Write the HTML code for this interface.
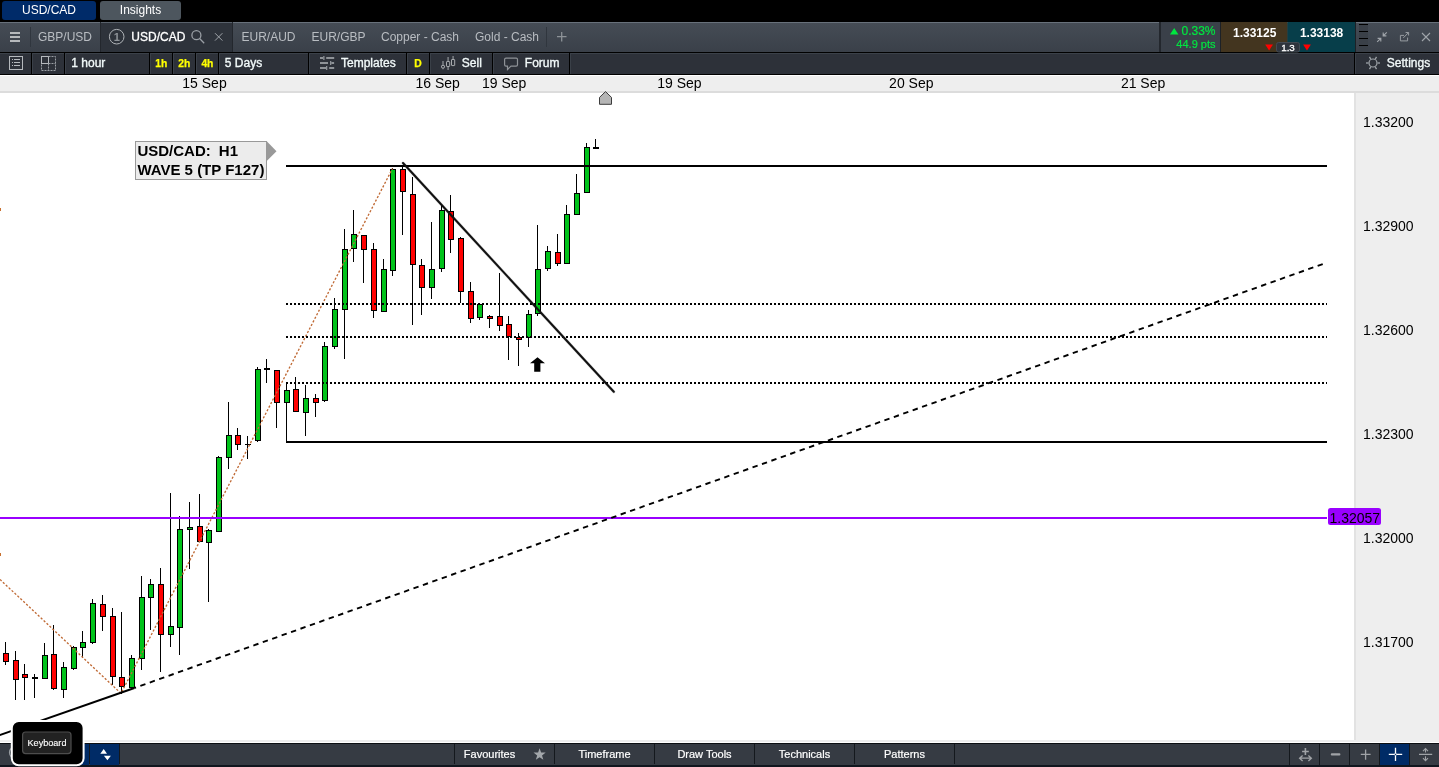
<!DOCTYPE html>
<html lang="en"><head><meta charset="utf-8"><title>USD/CAD chart</title>
<style>
html,body{margin:0;padding:0;background:#fff;}
body{width:1439px;height:767px;overflow:hidden;position:relative;font-family:"Liberation Sans",sans-serif;}
svg{position:absolute;left:0;top:0;display:block;}
svg text{font-family:"Liberation Sans",sans-serif;}
#topbar{position:absolute;left:0;top:0;width:1439px;height:22px;background:#000;}
#tabrow{position:absolute;left:0;top:22px;width:1439px;height:30px;background:linear-gradient(#454c55,#3a4049);border-top:1px solid #68717b;box-sizing:border-box;}
#toolbar{position:absolute;left:0;top:52px;width:1439px;height:23px;background:linear-gradient(#3b4149 0,#3b4149 1px,#2d3139 1px);border-top:1px solid #000;border-bottom:1px solid #000;box-sizing:border-box;}
#datestrip{position:absolute;left:0;top:75px;width:1439px;height:18px;background:#eee;border-top:1px solid #fff;border-bottom:2px solid #dcdcdc;box-sizing:border-box;}
#axis{position:absolute;left:1354px;top:93px;width:85px;height:648px;background:#eee;border-left:2px solid #e2e2e2;box-sizing:border-box;}
#chartbottom{position:absolute;left:0;top:740px;width:1439px;height:2px;background:#eee;}
#botbar{position:absolute;left:0;top:743px;width:1439px;height:24px;background:#363b43;border-top:1px solid #0c0f13;border-bottom:2px solid #10161e;box-sizing:border-box;}
</style></head><body>
<div id="topbar"></div><div id="tabrow"></div><div id="toolbar"></div><div id="datestrip"></div>
<div id="axis"></div><div id="chartbottom"></div><div id="botbar"></div>

<svg id="chart" width="1439" height="767" viewBox="0 0 1439 767">
<text x="204.5" y="87.5" font-size="14" fill="#000" font-weight="normal" text-anchor="middle" >15 Sep</text>
<text x="437.7" y="87.5" font-size="14" fill="#000" font-weight="normal" text-anchor="middle" >16 Sep</text>
<text x="504.2" y="87.5" font-size="14" fill="#000" font-weight="normal" text-anchor="middle" >19 Sep</text>
<text x="679.4" y="87.5" font-size="14" fill="#000" font-weight="normal" text-anchor="middle" >19 Sep</text>
<text x="911.3" y="87.5" font-size="14" fill="#000" font-weight="normal" text-anchor="middle" >20 Sep</text>
<text x="1143.1" y="87.5" font-size="14" fill="#000" font-weight="normal" text-anchor="middle" >21 Sep</text>
<text x="1363" y="127" font-size="14" fill="#000" font-weight="normal" text-anchor="start" >1.33200</text>
<text x="1363" y="231" font-size="14" fill="#000" font-weight="normal" text-anchor="start" >1.32900</text>
<text x="1363" y="335" font-size="14" fill="#000" font-weight="normal" text-anchor="start" >1.32600</text>
<text x="1363" y="439" font-size="14" fill="#000" font-weight="normal" text-anchor="start" >1.32300</text>
<text x="1363" y="543" font-size="14" fill="#000" font-weight="normal" text-anchor="start" >1.32000</text>
<text x="1363" y="647" font-size="14" fill="#000" font-weight="normal" text-anchor="start" >1.31700</text>
<path d="M599.5 104.3 V97.4 L605.5 91.6 L611.5 97.4 V104.3 Z" fill="#b5b5b5" stroke="#3c3c3c" stroke-width="1"/>
<line x1="5.5" y1="642" x2="5.5" y2="665" stroke="#000" stroke-width="1"/>
<rect x="3.5" y="653.5" width="5" height="8" fill="#ff0000" stroke="#000" stroke-width="1"/>
<line x1="15.5" y1="651" x2="15.5" y2="700" stroke="#000" stroke-width="1"/>
<rect x="13.5" y="660.5" width="5" height="19" fill="#ff0000" stroke="#000" stroke-width="1"/>
<line x1="24.5" y1="664" x2="24.5" y2="700" stroke="#000" stroke-width="1"/>
<rect x="22.5" y="674.5" width="5" height="3" fill="#ff0000" stroke="#000" stroke-width="1"/>
<line x1="34.5" y1="674" x2="34.5" y2="698" stroke="#000" stroke-width="1"/>
<rect x="32" y="677" width="6" height="2" fill="#000"/>
<line x1="44.5" y1="643" x2="44.5" y2="679" stroke="#000" stroke-width="1"/>
<rect x="42.5" y="655.5" width="5" height="23" fill="#00c31a" stroke="#000" stroke-width="1"/>
<line x1="53.5" y1="625" x2="53.5" y2="690" stroke="#000" stroke-width="1"/>
<rect x="51.5" y="654.5" width="5" height="34" fill="#ff0000" stroke="#000" stroke-width="1"/>
<line x1="63.5" y1="662" x2="63.5" y2="698" stroke="#000" stroke-width="1"/>
<rect x="61.5" y="667.5" width="5" height="22" fill="#00c31a" stroke="#000" stroke-width="1"/>
<line x1="73.5" y1="646" x2="73.5" y2="670" stroke="#000" stroke-width="1"/>
<rect x="71.5" y="647.5" width="5" height="21" fill="#00c31a" stroke="#000" stroke-width="1"/>
<line x1="82.5" y1="631" x2="82.5" y2="658" stroke="#000" stroke-width="1"/>
<rect x="80.5" y="642.5" width="5" height="5" fill="#00c31a" stroke="#000" stroke-width="1"/>
<line x1="92.5" y1="599" x2="92.5" y2="644" stroke="#000" stroke-width="1"/>
<rect x="90.5" y="603.5" width="5" height="39" fill="#00c31a" stroke="#000" stroke-width="1"/>
<line x1="102.5" y1="595" x2="102.5" y2="631" stroke="#000" stroke-width="1"/>
<rect x="100.5" y="604.5" width="5" height="12" fill="#ff0000" stroke="#000" stroke-width="1"/>
<line x1="112.5" y1="608" x2="112.5" y2="685" stroke="#000" stroke-width="1"/>
<rect x="110.5" y="616.5" width="5" height="60" fill="#ff0000" stroke="#000" stroke-width="1"/>
<line x1="121.5" y1="612" x2="121.5" y2="694" stroke="#000" stroke-width="1"/>
<rect x="119.5" y="677.5" width="5" height="9" fill="#ff0000" stroke="#000" stroke-width="1"/>
<line x1="131.5" y1="655" x2="131.5" y2="688" stroke="#000" stroke-width="1"/>
<rect x="129.5" y="658.5" width="5" height="29" fill="#00c31a" stroke="#000" stroke-width="1"/>
<line x1="141.5" y1="576" x2="141.5" y2="670" stroke="#000" stroke-width="1"/>
<rect x="139.5" y="597.5" width="5" height="61" fill="#00c31a" stroke="#000" stroke-width="1"/>
<line x1="150.5" y1="579" x2="150.5" y2="630" stroke="#000" stroke-width="1"/>
<rect x="148.5" y="584.5" width="5" height="13" fill="#00c31a" stroke="#000" stroke-width="1"/>
<line x1="160.5" y1="568" x2="160.5" y2="672" stroke="#000" stroke-width="1"/>
<rect x="158.5" y="584.5" width="5" height="50" fill="#ff0000" stroke="#000" stroke-width="1"/>
<line x1="170.5" y1="493" x2="170.5" y2="647" stroke="#000" stroke-width="1"/>
<rect x="168.5" y="626.5" width="5" height="8" fill="#00c31a" stroke="#000" stroke-width="1"/>
<line x1="179.5" y1="516" x2="179.5" y2="655" stroke="#000" stroke-width="1"/>
<rect x="177.5" y="529.5" width="5" height="98" fill="#00c31a" stroke="#000" stroke-width="1"/>
<line x1="189.5" y1="502" x2="189.5" y2="569" stroke="#000" stroke-width="1"/>
<rect x="187.5" y="527.5" width="5" height="2" fill="#00c31a" stroke="#000" stroke-width="1"/>
<line x1="199.5" y1="494" x2="199.5" y2="542" stroke="#000" stroke-width="1"/>
<rect x="197.5" y="526.5" width="5" height="15" fill="#ff0000" stroke="#000" stroke-width="1"/>
<line x1="208.5" y1="529" x2="208.5" y2="602" stroke="#000" stroke-width="1"/>
<rect x="206.5" y="530.5" width="5" height="12" fill="#00c31a" stroke="#000" stroke-width="1"/>
<line x1="218.5" y1="456" x2="218.5" y2="532" stroke="#000" stroke-width="1"/>
<rect x="216.5" y="457.5" width="5" height="74" fill="#00c31a" stroke="#000" stroke-width="1"/>
<line x1="228.5" y1="402" x2="228.5" y2="469" stroke="#000" stroke-width="1"/>
<rect x="226.5" y="435.5" width="5" height="22" fill="#00c31a" stroke="#000" stroke-width="1"/>
<line x1="237.5" y1="428" x2="237.5" y2="450" stroke="#000" stroke-width="1"/>
<rect x="235.5" y="435.5" width="5" height="9" fill="#ff0000" stroke="#000" stroke-width="1"/>
<line x1="247.5" y1="436" x2="247.5" y2="459" stroke="#000" stroke-width="1"/>
<rect x="245" y="444" width="6" height="1" fill="#000"/>
<line x1="257.5" y1="367" x2="257.5" y2="442" stroke="#000" stroke-width="1"/>
<rect x="255.5" y="369.5" width="5" height="71" fill="#00c31a" stroke="#000" stroke-width="1"/>
<line x1="266.5" y1="359" x2="266.5" y2="383" stroke="#000" stroke-width="1"/>
<rect x="264" y="368" width="6" height="2" fill="#000"/>
<line x1="276.5" y1="370" x2="276.5" y2="428" stroke="#000" stroke-width="1"/>
<rect x="274.5" y="370.5" width="5" height="32" fill="#ff0000" stroke="#000" stroke-width="1"/>
<line x1="286.5" y1="382" x2="286.5" y2="442" stroke="#000" stroke-width="1"/>
<rect x="284.5" y="390.5" width="5" height="12" fill="#00c31a" stroke="#000" stroke-width="1"/>
<line x1="295.5" y1="377" x2="295.5" y2="412" stroke="#000" stroke-width="1"/>
<rect x="293.5" y="389.5" width="5" height="22" fill="#ff0000" stroke="#000" stroke-width="1"/>
<line x1="305.5" y1="385" x2="305.5" y2="436" stroke="#000" stroke-width="1"/>
<rect x="303.5" y="398.5" width="5" height="14" fill="#00c31a" stroke="#000" stroke-width="1"/>
<line x1="315.5" y1="394" x2="315.5" y2="417" stroke="#000" stroke-width="1"/>
<rect x="313.5" y="398.5" width="5" height="4" fill="#ff0000" stroke="#000" stroke-width="1"/>
<line x1="324.5" y1="342" x2="324.5" y2="402" stroke="#000" stroke-width="1"/>
<rect x="322.5" y="346.5" width="5" height="54" fill="#00c31a" stroke="#000" stroke-width="1"/>
<line x1="334.5" y1="298" x2="334.5" y2="349" stroke="#000" stroke-width="1"/>
<rect x="332.5" y="309.5" width="5" height="37" fill="#00c31a" stroke="#000" stroke-width="1"/>
<line x1="344.5" y1="229" x2="344.5" y2="359" stroke="#000" stroke-width="1"/>
<rect x="342.5" y="249.5" width="5" height="60" fill="#00c31a" stroke="#000" stroke-width="1"/>
<line x1="353.5" y1="210" x2="353.5" y2="262" stroke="#000" stroke-width="1"/>
<rect x="351.5" y="234.5" width="5" height="14" fill="#00c31a" stroke="#000" stroke-width="1"/>
<line x1="363.5" y1="235" x2="363.5" y2="283" stroke="#000" stroke-width="1"/>
<rect x="361.5" y="235.5" width="5" height="14" fill="#ff0000" stroke="#000" stroke-width="1"/>
<line x1="373.5" y1="243" x2="373.5" y2="318" stroke="#000" stroke-width="1"/>
<rect x="371.5" y="249.5" width="5" height="61" fill="#ff0000" stroke="#000" stroke-width="1"/>
<line x1="383.5" y1="259" x2="383.5" y2="312" stroke="#000" stroke-width="1"/>
<rect x="381.5" y="269.5" width="5" height="42" fill="#00c31a" stroke="#000" stroke-width="1"/>
<line x1="392.5" y1="168" x2="392.5" y2="276" stroke="#000" stroke-width="1"/>
<rect x="390.5" y="169.5" width="5" height="101" fill="#00c31a" stroke="#000" stroke-width="1"/>
<line x1="402.5" y1="166" x2="402.5" y2="235" stroke="#000" stroke-width="1"/>
<rect x="400.5" y="169.5" width="5" height="22" fill="#ff0000" stroke="#000" stroke-width="1"/>
<line x1="412.5" y1="177" x2="412.5" y2="325" stroke="#000" stroke-width="1"/>
<rect x="410.5" y="194.5" width="5" height="70" fill="#ff0000" stroke="#000" stroke-width="1"/>
<line x1="421.5" y1="259" x2="421.5" y2="315" stroke="#000" stroke-width="1"/>
<rect x="419.5" y="265.5" width="5" height="22" fill="#ff0000" stroke="#000" stroke-width="1"/>
<line x1="431.5" y1="222" x2="431.5" y2="299" stroke="#000" stroke-width="1"/>
<rect x="429.5" y="269.5" width="5" height="18" fill="#00c31a" stroke="#000" stroke-width="1"/>
<line x1="441.5" y1="205" x2="441.5" y2="272" stroke="#000" stroke-width="1"/>
<rect x="439.5" y="210.5" width="5" height="58" fill="#00c31a" stroke="#000" stroke-width="1"/>
<line x1="450.5" y1="195" x2="450.5" y2="253" stroke="#000" stroke-width="1"/>
<rect x="448.5" y="211.5" width="5" height="28" fill="#ff0000" stroke="#000" stroke-width="1"/>
<line x1="460.5" y1="237" x2="460.5" y2="303" stroke="#000" stroke-width="1"/>
<rect x="458.5" y="238.5" width="5" height="53" fill="#ff0000" stroke="#000" stroke-width="1"/>
<line x1="470.5" y1="282" x2="470.5" y2="323" stroke="#000" stroke-width="1"/>
<rect x="468.5" y="291.5" width="5" height="27" fill="#ff0000" stroke="#000" stroke-width="1"/>
<line x1="479.5" y1="303" x2="479.5" y2="320" stroke="#000" stroke-width="1"/>
<rect x="477.5" y="304.5" width="5" height="13" fill="#00c31a" stroke="#000" stroke-width="1"/>
<line x1="489.5" y1="315" x2="489.5" y2="328" stroke="#000" stroke-width="1"/>
<rect x="487.5" y="316.5" width="5" height="2" fill="#ff0000" stroke="#000" stroke-width="1"/>
<line x1="499.5" y1="273" x2="499.5" y2="331" stroke="#000" stroke-width="1"/>
<rect x="497.5" y="316.5" width="5" height="9" fill="#ff0000" stroke="#000" stroke-width="1"/>
<line x1="508.5" y1="316" x2="508.5" y2="360" stroke="#000" stroke-width="1"/>
<rect x="506.5" y="324.5" width="5" height="12" fill="#ff0000" stroke="#000" stroke-width="1"/>
<line x1="518.5" y1="333" x2="518.5" y2="366" stroke="#000" stroke-width="1"/>
<rect x="516.5" y="337.5" width="5" height="2" fill="#ff0000" stroke="#000" stroke-width="1"/>
<line x1="528.5" y1="310" x2="528.5" y2="347" stroke="#000" stroke-width="1"/>
<rect x="526.5" y="314.5" width="5" height="23" fill="#00c31a" stroke="#000" stroke-width="1"/>
<line x1="537.5" y1="225" x2="537.5" y2="316" stroke="#000" stroke-width="1"/>
<rect x="535.5" y="269.5" width="5" height="44" fill="#00c31a" stroke="#000" stroke-width="1"/>
<line x1="547.5" y1="246" x2="547.5" y2="271" stroke="#000" stroke-width="1"/>
<rect x="545.5" y="251.5" width="5" height="17" fill="#00c31a" stroke="#000" stroke-width="1"/>
<line x1="557.5" y1="234" x2="557.5" y2="266" stroke="#000" stroke-width="1"/>
<rect x="555.5" y="252.5" width="5" height="11" fill="#ff0000" stroke="#000" stroke-width="1"/>
<line x1="566.5" y1="205" x2="566.5" y2="263" stroke="#000" stroke-width="1"/>
<rect x="564.5" y="214.5" width="5" height="49" fill="#00c31a" stroke="#000" stroke-width="1"/>
<line x1="576.5" y1="174" x2="576.5" y2="215" stroke="#000" stroke-width="1"/>
<rect x="574.5" y="193.5" width="5" height="21" fill="#00c31a" stroke="#000" stroke-width="1"/>
<line x1="586.5" y1="143" x2="586.5" y2="193" stroke="#000" stroke-width="1"/>
<rect x="584.5" y="147.5" width="5" height="45" fill="#00c31a" stroke="#000" stroke-width="1"/>
<line x1="595.5" y1="139" x2="595.5" y2="148" stroke="#000" stroke-width="1"/>
<rect x="593" y="147" width="6" height="2" fill="#000"/>
<path d="M0 579.4 L121 693.4 L392.5 168.5" fill="none" stroke="#c06a35" stroke-width="1.35" stroke-dasharray="2.2 1.8"/>
<rect x="0" y="208" width="1" height="3" fill="#c87030"/><rect x="0" y="553" width="1" height="3" fill="#c87030"/>
<rect x="286" y="165" width="1041" height="2" fill="#000"/>
<rect x="286" y="441" width="1041" height="2" fill="#000"/>
<line x1="286" y1="304" x2="1327" y2="304" stroke="#000" stroke-width="2" stroke-dasharray="2 2"/>
<line x1="286" y1="337" x2="1327" y2="337" stroke="#000" stroke-width="2" stroke-dasharray="2 2"/>
<line x1="286" y1="383" x2="1327" y2="383" stroke="#000" stroke-width="2" stroke-dasharray="2 2"/>
<rect x="0" y="517" width="1327" height="2" fill="#9900ff"/>
<line x1="-2" y1="735.7" x2="134.4" y2="688" stroke="#000" stroke-width="2"/>
<line x1="134.4" y1="688" x2="1322.8" y2="264" stroke="#000" stroke-width="1.9" stroke-dasharray="5.4 4.6" stroke-dashoffset="3.7"/>
<line x1="403" y1="163" x2="613.8" y2="391.8" stroke="#000" stroke-opacity="0.2" stroke-width="3" stroke-linecap="round"/>
<line x1="403" y1="163" x2="613.8" y2="391.8" stroke="#111" stroke-width="2" stroke-linecap="round"/>
<path d="M537.5 357.2 L545 363.3 H540.4 V371.7 H534.2 V363.3 H530 Z" fill="#000"/>
<path d="M267 141.5 L276.5 151.2 L267 160.8 Z" fill="#999"/>
<rect x="135.5" y="141.5" width="131" height="38" fill="#ececec" stroke="#999" stroke-width="1"/>
<text y="155.6" font-size="15" fill="#000" font-weight="bold"><tspan x="137.4">USD/CAD:</tspan><tspan x="218.8">H1</tspan></text>
<text x="137.4" y="174.8" font-size="15" fill="#000" font-weight="bold" text-anchor="start" >WAVE 5 (TP F127)</text>
<rect x="1328" y="508" width="53" height="17" rx="2.5" fill="#9900ff"/>
<text x="1329.5" y="523" font-size="14" fill="#000" font-weight="normal" text-anchor="start" >1.32057</text>
</svg>
<svg id="hdr" width="1439" height="76" viewBox="0 0 1439 76">
<rect x="2" y="1" width="94" height="19" rx="3" fill="#002b69"/>
<rect x="100" y="1" width="81" height="19" rx="3" fill="#4d565e"/>
<text x="49" y="13.6" font-size="12" fill="#fff" font-weight="normal" text-anchor="middle" >USD/CAD</text>
<text x="140.5" y="13.6" font-size="12" fill="#fff" font-weight="normal" text-anchor="middle" >Insights</text>
<rect x="10" y="32" width="10" height="2" fill="#b6b9bc"/>
<rect x="10" y="36" width="10" height="2" fill="#b6b9bc"/>
<rect x="10" y="40" width="10" height="2" fill="#b6b9bc"/>
<rect x="30" y="27" width="1" height="20" fill="#30363e"/>
<text x="38" y="40.8" font-size="12" fill="#b9bdc2" font-weight="normal" text-anchor="start" >GBP/USD</text>
<rect x="100" y="22" width="133" height="30" fill="#2e333b"/><rect x="100" y="22" width="133" height="1" fill="#59616b"/>
<rect x="100" y="22" width="1" height="30" fill="#23272d"/><rect x="232" y="22" width="1" height="30" fill="#23272d"/>
<circle cx="116.7" cy="36.7" r="7.3" fill="none" stroke="#b0b4b8" stroke-width="1"/>
<text x="116.8" y="40.7" font-size="11" fill="#8f9499" font-weight="bold" text-anchor="middle" >1</text>
<text x="131.3" y="40.8" font-size="12" fill="#fff" font-weight="normal" text-anchor="start" stroke="#fff" stroke-width="0.3">USD/CAD</text>
<circle cx="196.4" cy="35.2" r="4.5" fill="none" stroke="#9a9fa5" stroke-width="1.3"/><line x1="199.6" y1="38.5" x2="204.2" y2="43.2" stroke="#9a9fa5" stroke-width="1.3"/>
<path d="M215 33.2 L222.4 40.6 M222.4 33.2 L215 40.6" stroke="#a0a5aa" stroke-width="1" fill="none"/>
<text x="241.5" y="40.8" font-size="12" fill="#b9bdc2" font-weight="normal" text-anchor="start" >EUR/AUD</text>
<text x="311.5" y="40.8" font-size="12" fill="#b9bdc2" font-weight="normal" text-anchor="start" >EUR/GBP</text>
<text x="381" y="40.8" font-size="12" fill="#b9bdc2" font-weight="normal" text-anchor="start" >Copper - Cash</text>
<text x="475" y="40.8" font-size="12" fill="#b9bdc2" font-weight="normal" text-anchor="start" >Gold - Cash</text>
<rect x="546" y="27" width="1" height="20" fill="#30363e"/>
<path d="M557 36.7 H566.5 M561.7 32 V41.5" stroke="#8d9297" stroke-width="1.3" fill="none"/>
<rect x="1159" y="22" width="2" height="30" fill="#23272d"/>
<rect x="1161" y="22" width="59" height="30" fill="#3a4049"/>
<rect x="1220" y="22" width="1" height="30" fill="#1d2126"/>
<rect x="1221" y="22" width="66.5" height="30" fill="#43351f"/>
<rect x="1287.5" y="22" width="67.5" height="30" fill="#073e4a"/>
<rect x="1355" y="22" width="1" height="30" fill="#1d2126"/>
<path d="M1170 34.6 L1174.2 28 L1178.4 34.6 Z" fill="#00e640"/>
<text x="1215.5" y="34.8" font-size="12" fill="#00e640" font-weight="normal" text-anchor="end" stroke="#00e640" stroke-width="0.2">0.33%</text>
<text x="1215.5" y="48.1" font-size="11" fill="#00e640" font-weight="normal" text-anchor="end" stroke="#00e640" stroke-width="0.2">44.9 pts</text>
<text x="1254.7" y="37.3" font-size="12" fill="#fff" font-weight="bold" text-anchor="middle" >1.33125</text>
<text x="1321.6" y="37.3" font-size="12" fill="#fff" font-weight="bold" text-anchor="middle" >1.33138</text>
<path d="M1265.2 44.5 H1273 L1269.1 50.5 Z" fill="#ff0000"/><path d="M1303.1 44.5 H1310.9 L1307 50.5 Z" fill="#ff0000"/>
<rect x="1276.5" y="42.5" width="23" height="9.5" rx="2" fill="#2e343d" stroke="#434a53" stroke-width="1"/>
<text x="1288" y="51.2" font-size="9.8" fill="#fff" font-weight="normal" text-anchor="middle" stroke="#fff" stroke-width="0.3">1.3</text>
<rect x="1359" y="24" width="9" height="28" fill="#3a4048"/>
<rect x="1359" y="24" width="9" height="1" fill="#000"/>
<rect x="1359" y="31" width="9" height="1" fill="#000"/>
<rect x="1359" y="38" width="9" height="1" fill="#000"/>
<rect x="1359" y="45" width="9" height="1" fill="#000"/>
<path d="M1386.8 32.3 L1383.2 35.8 M1383.2 32.6 V35.8 H1386.4 M1377.2 41.9 L1380.8 38.4 M1380.8 41.6 V38.4 H1377.6" stroke="#a0a5aa" stroke-width="1.15" fill="none"/>
<path d="M1404 35.4 H1400.4 V40.9 H1407.6 V37.6 M1403.3 37.9 L1408.5 32.6 M1405.6 32.5 H1408.6 V35.5" stroke="#979ca1" stroke-width="1" fill="none"/>
<path d="M1422 33 L1430 41 M1430 33 L1422 41" stroke="#a0a5aa" stroke-width="1.1" fill="none"/>
<rect x="31" y="53" width="1" height="21" fill="#000"/><rect x="32" y="53" width="1" height="21" fill="#3a4048"/>
<rect x="64" y="53" width="1" height="21" fill="#000"/><rect x="65" y="53" width="1" height="21" fill="#3a4048"/>
<rect x="149" y="53" width="1" height="21" fill="#000"/><rect x="150" y="53" width="1" height="21" fill="#3a4048"/>
<rect x="172" y="53" width="1" height="21" fill="#000"/><rect x="173" y="53" width="1" height="21" fill="#3a4048"/>
<rect x="195" y="53" width="1" height="21" fill="#000"/><rect x="196" y="53" width="1" height="21" fill="#3a4048"/>
<rect x="218" y="53" width="1" height="21" fill="#000"/><rect x="219" y="53" width="1" height="21" fill="#3a4048"/>
<rect x="308" y="53" width="1" height="21" fill="#000"/><rect x="309" y="53" width="1" height="21" fill="#3a4048"/>
<rect x="406" y="53" width="1" height="21" fill="#000"/><rect x="407" y="53" width="1" height="21" fill="#3a4048"/>
<rect x="429" y="53" width="1" height="21" fill="#000"/><rect x="430" y="53" width="1" height="21" fill="#3a4048"/>
<rect x="492" y="53" width="1" height="21" fill="#000"/><rect x="493" y="53" width="1" height="21" fill="#3a4048"/>
<rect x="569" y="53" width="1" height="21" fill="#000"/><rect x="570" y="53" width="1" height="21" fill="#3a4048"/>
<rect x="1354" y="53" width="1" height="21" fill="#000"/><rect x="1355" y="53" width="1" height="21" fill="#3a4048"/>
<rect x="9.5" y="56.5" width="13" height="13" fill="none" stroke="#b5b9bd" stroke-width="1"/>
<rect x="12" y="59" width="1" height="1" fill="#b5b9bd"/><rect x="14" y="59" width="6" height="1" fill="#b5b9bd"/>
<rect x="12" y="62" width="1" height="1" fill="#b5b9bd"/><rect x="14" y="62" width="6" height="1" fill="#b5b9bd"/>
<rect x="12" y="65" width="1" height="1" fill="#b5b9bd"/><rect x="14" y="65" width="6" height="1" fill="#b5b9bd"/>
<rect x="41.5" y="56.5" width="7" height="7" fill="none" stroke="#b5b9bd" stroke-width="1"/>
<path d="M48.5 56.5 H55.5 V70.5 H41.5 V63.5 M48.5 63.5 V70.5 M48.5 63.5 H55.5" fill="none" stroke="#9a9fa4" stroke-width="1" stroke-dasharray="2 1"/>
<text x="71.3" y="66.7" font-size="12" fill="#f4fbfb" font-weight="normal" text-anchor="start" stroke="#f0f8f8" stroke-width="0.35">1 hour</text>
<text x="161.2" y="66.8" font-size="10.3" fill="#ffff00" font-weight="bold" text-anchor="middle" stroke="#ffff00" stroke-width="0.25">1h</text>
<text x="184.3" y="66.8" font-size="10.3" fill="#ffff00" font-weight="bold" text-anchor="middle" stroke="#ffff00" stroke-width="0.25">2h</text>
<text x="207.4" y="66.8" font-size="10.3" fill="#ffff00" font-weight="bold" text-anchor="middle" stroke="#ffff00" stroke-width="0.25">4h</text>
<text x="224.8" y="66.7" font-size="12" fill="#f4fbfb" font-weight="normal" text-anchor="start" stroke="#f0f8f8" stroke-width="0.35">5 Days</text>
<rect x="320" y="57" width="3.2" height="2" fill="#8e9297"/>
<rect x="323.2" y="56" width="1.3" height="4" fill="#8e9297"/>
<rect x="326.2" y="57" width="8" height="2" fill="#8e9297"/>
<rect x="320" y="62" width="8" height="2" fill="#8e9297"/>
<rect x="330" y="61" width="1.3" height="4" fill="#8e9297"/>
<rect x="331.3" y="62" width="2.8" height="2" fill="#8e9297"/>
<rect x="320" y="67" width="6" height="2" fill="#8e9297"/>
<rect x="326" y="66" width="1.3" height="4" fill="#8e9297"/>
<rect x="329.2" y="67" width="5" height="2" fill="#8e9297"/>
<text x="341" y="66.7" font-size="12" fill="#f4fbfb" font-weight="normal" text-anchor="start" stroke="#f0f8f8" stroke-width="0.35">Templates</text>
<text x="418" y="66.8" font-size="10.3" fill="#ffff00" font-weight="bold" text-anchor="middle" stroke="#ffff00" stroke-width="0.25">D</text>
<path d="M443 61 V69.3 M448.1 57 V70 M453.1 56 V60" stroke="#7d8186" stroke-width="1.5" fill="none"/>
<rect x="441.5" y="65.5" width="3" height="2.4" rx="0.6" fill="#2d323a" stroke="#a8abae"/><rect x="446.5" y="61.5" width="3.2" height="5" rx="0.6" fill="#2d323a" stroke="#a8abae"/><rect x="451.5" y="59.5" width="3.2" height="6.1" rx="0.4" fill="#2d323a" stroke="#a8abae"/>
<text x="461.8" y="66.7" font-size="12" fill="#f4fbfb" font-weight="normal" text-anchor="start" stroke="#f0f8f8" stroke-width="0.35">Sell</text>
<path d="M506 58.2 H516.2 Q517.5 58.2 517.5 59.5 V64.8 Q517.5 66.1 516.2 66.1 H511 L507.5 69.5 V66.1 H506 Q504.6 66.1 504.6 64.8 V59.5 Q504.6 58.2 506 58.2 Z" fill="none" stroke="#8e9297" stroke-width="1.2"/>
<text x="524.8" y="66.7" font-size="12" fill="#f4fbfb" font-weight="normal" text-anchor="start" stroke="#f0f8f8" stroke-width="0.35">Forum</text>
<circle cx="1373" cy="63" r="4" fill="none" stroke="#a0a5aa" stroke-width="1.2"/>
<line x1="1377.60" y1="63.00" x2="1380.00" y2="63.00" stroke="#a0a5aa" stroke-width="1.3"/>
<line x1="1375.30" y1="66.98" x2="1376.50" y2="69.06" stroke="#a0a5aa" stroke-width="1.3"/>
<line x1="1370.70" y1="66.98" x2="1369.50" y2="69.06" stroke="#a0a5aa" stroke-width="1.3"/>
<line x1="1368.40" y1="63.00" x2="1366.00" y2="63.00" stroke="#a0a5aa" stroke-width="1.3"/>
<line x1="1370.70" y1="59.02" x2="1369.50" y2="56.94" stroke="#a0a5aa" stroke-width="1.3"/>
<line x1="1375.30" y1="59.02" x2="1376.50" y2="56.94" stroke="#a0a5aa" stroke-width="1.3"/>
<text x="1386.8" y="67" font-size="12" fill="#f4fbfb" font-weight="normal" text-anchor="start" stroke="#f0f8f8" stroke-width="0.35">Settings</text>
</svg>
<svg id="ftr" width="1439" height="767" viewBox="0 0 1439 767" style="pointer-events:none">
<rect x="60" y="744" width="29" height="21" fill="#002b66"/>
<rect x="89" y="744" width="1" height="20" fill="#14181d"/>
<rect x="90" y="744" width="29" height="21" fill="#002b66"/>
<rect x="119" y="744" width="1" height="20" fill="#14181d"/>
<path d="M100.3 753.7 L103.7 749 L107 753.7 Z M103.9 755.8 L107.4 760.3 L110.9 755.8 Z" fill="#fff"/>
<rect x="454" y="744" width="1" height="20" fill="#14181d"/>
<rect x="554" y="744" width="1" height="20" fill="#14181d"/>
<rect x="654" y="744" width="1" height="20" fill="#14181d"/>
<rect x="754" y="744" width="1" height="20" fill="#14181d"/>
<rect x="854" y="744" width="1" height="20" fill="#14181d"/>
<rect x="954" y="744" width="1" height="20" fill="#14181d"/>
<text x="489.5" y="758" font-size="11" fill="#fff" font-weight="normal" text-anchor="middle" stroke="#fff" stroke-width="0.2">Favourites</text>
<text x="604.5" y="758" font-size="11" fill="#fff" font-weight="normal" text-anchor="middle" stroke="#fff" stroke-width="0.2">Timeframe</text>
<text x="704.5" y="758" font-size="11" fill="#fff" font-weight="normal" text-anchor="middle" stroke="#fff" stroke-width="0.2">Draw Tools</text>
<text x="804.5" y="758" font-size="11" fill="#fff" font-weight="normal" text-anchor="middle" stroke="#fff" stroke-width="0.2">Technicals</text>
<text x="904.5" y="758" font-size="11" fill="#fff" font-weight="normal" text-anchor="middle" stroke="#fff" stroke-width="0.2">Patterns</text>
<polygon points="539.60,748.20 541.10,752.54 545.69,752.62 542.03,755.39 543.36,759.78 539.60,757.15 535.84,759.78 537.17,755.39 533.51,752.62 538.10,752.54" fill="#a3a7ab"/>
<rect x="1289" y="744" width="1" height="21" fill="#14181d"/>
<rect x="1319" y="744" width="1" height="21" fill="#14181d"/>
<rect x="1349" y="744" width="1" height="21" fill="#14181d"/>
<rect x="1379" y="744" width="1" height="21" fill="#14181d"/>
<rect x="1409" y="744" width="1" height="21" fill="#14181d"/>
<rect x="1380" y="744" width="29" height="21" fill="#002b66"/>
<path d="M1302.1 751.5 H1308.8 M1305.4 748 V755" stroke="#a0a3a7" stroke-width="1.6" fill="none"/>
<path d="M1299.6 758.2 H1311.4 M1302.6 755.4 L1299.6 758.2 L1302.6 761 M1308.4 755.4 L1311.4 758.2 L1308.4 761" stroke="#a0a3a7" stroke-width="1.3" fill="none"/>
<rect x="1330.8" y="753.3" width="9.6" height="2.2" rx="1" fill="#a0a3a7"/>
<path d="M1360.8 754.4 H1370.6 M1365.6 749.6 V759.8" stroke="#a0a3a7" stroke-width="1.3" fill="none"/>
<path d="M1388.8 754.4 H1402.2 M1395.5 747.7 V761.1" stroke="#fff" stroke-width="1.3" fill="none"/><circle cx="1395.5" cy="754.4" r="1" fill="#002b66" stroke="#fff" stroke-width="0.6"/>
<path d="M1419 754.4 H1432.2 M1425.5 748.8 V752.6 M1423 751.2 L1425.5 748.6 L1428 751.2 M1425.5 756.2 V760.6 M1423 758.2 L1425.5 760.8 L1428 758.2" stroke="#a0a3a7" stroke-width="1.1" fill="none"/>
<circle cx="15.5" cy="752.5" r="6" fill="none" stroke="#9a9fa4" stroke-width="1.2"/>
<rect x="11.8" y="721" width="71.8" height="44.3" rx="7" fill="#000" stroke="#fff" stroke-width="2"/>
<rect x="22.6" y="732" width="48.4" height="21.6" rx="3" fill="#222" stroke="#4d4d4d" stroke-width="1.2"/>
<text x="47" y="746" font-size="9.1" fill="#fff" font-weight="normal" text-anchor="middle" stroke="#fff" stroke-width="0.12">Keyboard</text>
</svg>
</body></html>
